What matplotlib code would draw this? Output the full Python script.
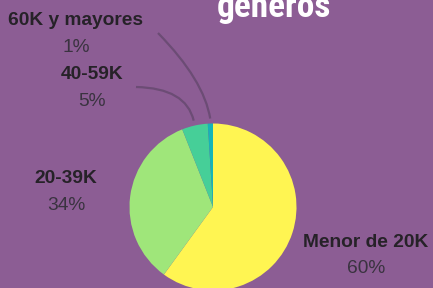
import numpy as np
import matplotlib
matplotlib.use("Agg")
import matplotlib.pyplot as plt
from matplotlib.path import Path
from matplotlib.patches import PathPatch

categories = ["Menor de 20K", "20-39K", "40-59K", "60K y mayores"]
values = [60, 34, 5, 1]
pct_labels = ["60%", "34%", "5%", "1%"]
title = "géneros"

colors = ["#FFF552", "#9FE67A", "#46CF98", "#14B5B8"]
bg = "#8C5D94"
W, H = 433, 288

fig = plt.figure(figsize=(W / 100, H / 100), dpi=100, facecolor=bg)
ax = fig.add_axes([0, 0, 1, 1])
ax.set_facecolor(bg)

cx, cy, r = 213, H - 207, 83.5
wedges, _ = ax.pie(values, colors=colors, startangle=90, counterclock=False,
                   center=(cx, cy), radius=r, frame=True,
                   wedgeprops=dict(linewidth=0))
ax.set_xlim(0, W)
ax.set_ylim(0, H)
ax.set_aspect("equal")
ax.axis("off")

def Y(y):
    return H - y

# label positions (x, baseline y from top) for name and percent
label_pos = {
    "Menor de 20K": ((366, 247), (366, 273)),
    "20-39K": ((66, 183), (66, 210)),
    "40-59K": ((92, 79), (92, 106)),
    "60K y mayores": ((76, 25), (76, 52)),
}
name_color = "#262228"
pct_color = "#3a3340"
for cat, pct in zip(categories, pct_labels):
    (nx, ny), (px, py) = label_pos[cat]
    ax.text(nx, Y(ny), cat, ha="center", va="baseline", fontsize=13.8,
            fontweight="bold", color=name_color, family="Liberation Sans")
    ax.text(px, Y(py), pct, ha="center", va="baseline", fontsize=13.8,
            color=pct_color, family="Liberation Sans")

# leader lines for small slices
starts = {"40-59K": ((136, 87), (186, 88)), "60K y mayores": ((158, 33), (204, 80))}
for w, cat in zip(wedges, categories):
    if cat not in starts:
        continue
    ang = np.deg2rad((w.theta1 + w.theta2) / 2)
    ex = cx + r * 1.06 * np.cos(ang)
    ey = cy + r * 1.06 * np.sin(ang)
    (sx, sy), (qx, qy) = starts[cat]
    p = Path([(sx, Y(sy)), (qx, Y(qy)), (ex, ey)],
             [Path.MOVETO, Path.CURVE3, Path.CURVE3])
    ax.add_patch(PathPatch(p, facecolor="none", edgecolor="#6C4C75", lw=1.6))

ax.text(274, Y(17.5), title, ha="center", va="baseline", fontsize=25.5,
        fontweight="bold", color="white", family=["Roboto Condensed", "Roboto"])

fig.savefig("out.png", dpi=100, facecolor=bg)
